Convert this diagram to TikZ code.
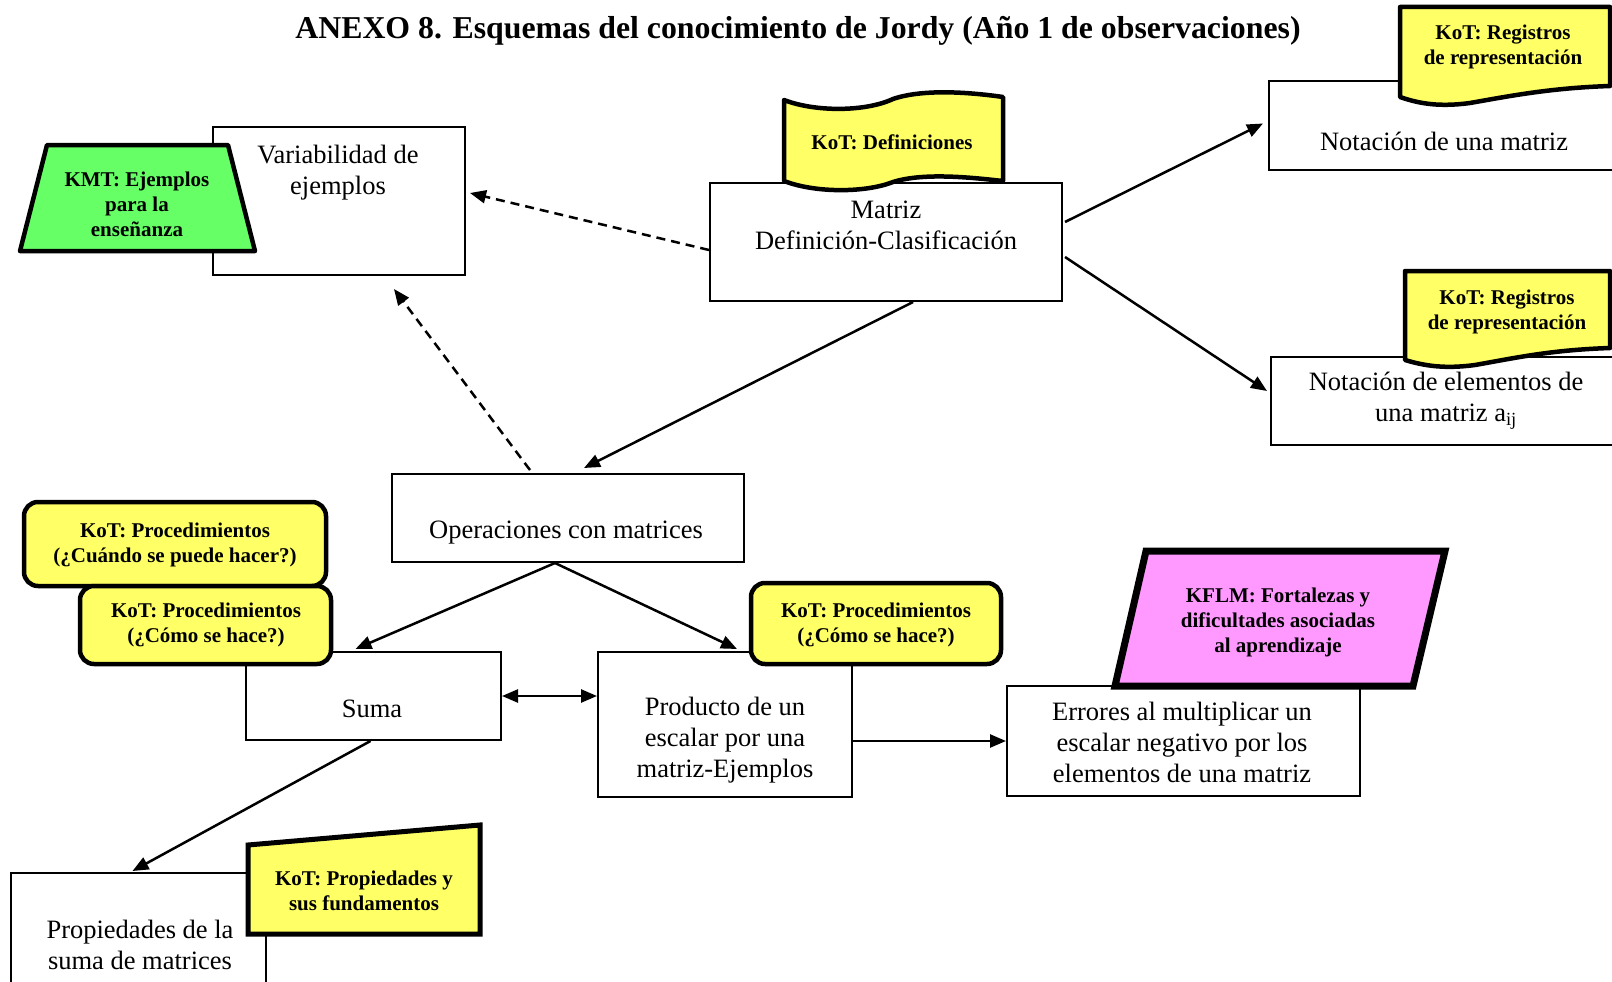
\documentclass[tikz,border=0pt]{standalone}
\usepackage{fontspec}
\setmainfont{Liberation Serif}
\usetikzlibrary{arrows.meta,calc}

\definecolor{noteyellow}{RGB}{255,255,102}
\definecolor{notegreen}{RGB}{102,255,102}
\definecolor{notepink}{RGB}{255,153,255}

\tikzset{
  box/.style={draw, line width=2pt, fill=white, inner sep=0pt},
  txt/.style={align=center, font=\fontsize{26.5}{31}\selectfont},
  notetxt/.style={align=center, font=\fontsize{21}{25}\selectfont\bfseries},
  note/.style={draw, line width=4.5pt, line join=round, fill=noteyellow},
  link/.style={line width=2.5pt, -{Triangle[length=16pt,width=13pt]}}
}

\begin{document}
\begin{tikzpicture}[x=1pt,y=-1pt]
  \useasboundingbox (0,0) rectangle (1612,982);
  \clip (0,0) rectangle (1612,982);

  \node[font=\fontsize{31.8}{36}\selectfont\bfseries] (title) at (798,31)
    {ANEXO 8. Esquemas del conocimiento de Jordy (Año 1 de observaciones)};

  % boxes
  \begin{scope}[every node/.style={box}]
    \node[minimum width=252pt, minimum height=148pt] (var)    at (339,201)    {};
    \node[minimum width=352pt, minimum height=118pt] (matriz) at (886,242)    {};
    \node[minimum width=371pt, minimum height=89pt]  (not1)   at (1454.5,125.5) {};
    \node[minimum width=369pt, minimum height=88pt]  (not2)   at (1455.5,401) {};
    \node[minimum width=352pt, minimum height=88pt]  (ops)    at (568,518)    {};
    \node[minimum width=255pt, minimum height=88pt]  (suma)   at (373.5,696)  {};
    \node[minimum width=254pt, minimum height=145pt] (prod)   at (725,724.5)  {};
    \node[minimum width=353pt, minimum height=110pt] (err)    at (1183.5,741) {};
    \node[minimum width=255pt, minimum height=137pt] (prop)   at (138.5,941.5) {};
  \end{scope}

  \begin{scope}[every node/.style={txt}]
    \node (var-t)    at (338,173)  {Variabilidad de\\ejemplos};
    \node (matriz-t) at (886,225)  {Matriz\\Definición-Clasificación};
    \node (not1-t)   at (1444,141) {Notación de una matriz};
    \node (not2-t)   at (1446,401) {Notación de elementos de\\una matriz a\textsubscript{ij}};
    \node (ops-t)    at (566,533)  {Operaciones con matrices};
    \node (suma-t)   at (372,709)  {Suma};
    \node (prod-t)   at (725,740)  {Producto de un\\escalar por una\\matriz-Ejemplos};
    \node (err-t)    at (1182,742) {Errores al multiplicar un\\escalar negativo por los\\elementos de una matriz};
    \node (prop-t)   at (140,945)  {Propiedades de la\\suma de matrices};
  \end{scope}

  % notes
  \path[note, fill=notegreen] (47,145) -- (228,145) -- (255,251) -- (20,251) -- cycle;
  \path[note] (784,100) .. controls (815,112) and (865,112) .. (893,99)
    .. controls (925,88) and (975,93) .. (1003,97) -- (1003,181)
    .. controls (975,178) and (925,172) .. (893,182)
    .. controls (865,193) and (815,193) .. (784,181) -- cycle;
  \path[note] (1400,7) -- (1610,7) -- (1610,86)
    .. controls (1550,88) and (1510,96) .. (1470,103)
    .. controls (1440,107) and (1420,104) .. (1400,97) -- cycle;
  \path[note] (1405,271) -- (1610,271) -- (1610,348)
    .. controls (1550,350) and (1515,358) .. (1475,365)
    .. controls (1445,369) and (1425,366) .. (1405,360) -- cycle;
  \path[note, rounded corners=14pt] (24,502) rectangle (326,586);
  \path[note, rounded corners=14pt] (80,586) rectangle (331,664);
  \path[note, rounded corners=14pt] (751,583) rectangle (1001,664);
  \path[note, fill=notepink, line width=7pt, line join=miter]
    (1146,551) -- (1445,551) -- (1413,686) -- (1115,686) -- cycle;
  \path[note, line width=5pt, line join=miter]
    (248,845) -- (480,825) -- (480,934) -- (248,934) -- cycle;

  \begin{scope}[every node/.style={notetxt}]
    \node (kmt)     at (137,204)  {KMT: Ejemplos\\para la\\enseñanza};
    \node (kotdef)  at (892,142)  {KoT: Definiciones};
    \node (kotreg1) at (1503,47)  {KoT: Registros\\de representación};
    \node (kotreg2) at (1507,312) {KoT: Registros\\de representación};
    \node (kotcuan) at (175,545)  {KoT: Procedimientos\\(¿Cuándo se puede hacer?)};
    \node (kotcomo) at (206,625)  {KoT: Procedimientos\\(¿Cómo se hace?)};
    \node (kotprod) at (876,625)  {KoT: Procedimientos\\(¿Cómo se hace?)};
    \node (kflm)    at (1278,622) {KFLM: Fortalezas y\\dificultades asociadas\\al aprendizaje};
    \node (kotprop) at (364,891)  {KoT: Propiedades y\\sus fundamentos};
  \end{scope}

  % links
  \begin{scope}[every edge/.style={draw, link}]
    \path ($(matriz.west)+(0,8)$) edge[dash pattern=on 9pt off 6pt] ($(var.east)+(4,-8)$);
    \path ($(ops.north)+(-38,-3)$) edge[dash pattern=on 9pt off 6pt] ($(var.south)+(55,13)$);
    \path ($(matriz.south)+(27,0)$) edge ($(ops.north)+(16,-5)$);
    \path ($(matriz.east)+(2,-20)$) edge ($(not1.west)+(-5,-2)$);
    \path ($(matriz.east)+(2,15)$) edge ($(not2.west)+(-3,-10)$);
    \path ($(ops.south)+(-13,0)$) edge ($(suma.north)+(-18,-2)$);
    \path ($(ops.south)+(-13,0)$) edge ($(prod.north)+(12,-2)$);
    \path (suma.east) edge[{Triangle[length=16pt,width=13pt]}-{Triangle[length=16pt,width=13pt]}] (suma.east -| prod.west);
    \path (prod.east |- err.west) edge (err.west);
    \path ($(suma.south)+(-3,0)$) edge ($(prop.north)+(-6,-1)$);
  \end{scope}
\end{tikzpicture}
\end{document}
